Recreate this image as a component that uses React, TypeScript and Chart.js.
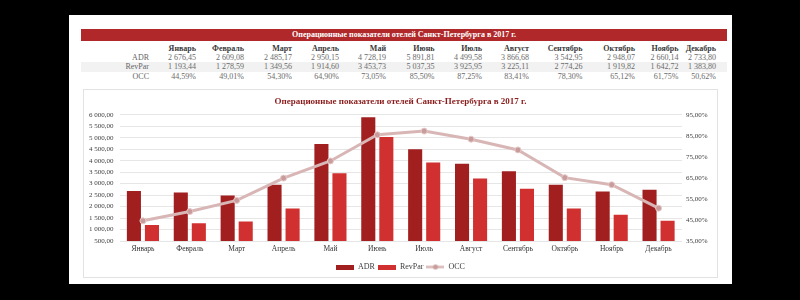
import React, { useEffect, useRef } from "react";
import { Chart, registerables } from "chart.js";

Chart.register(...registerables);

const TITLE = "Операционные показатели отелей Санкт-Петербурга в 2017 г.";
const months = ["Январь", "Февраль", "Март", "Апрель", "Май", "Июнь", "Июль", "Август", "Сентябрь", "Октябрь", "Ноябрь", "Декабрь"];
const adr = [2676.45, 2609.08, 2485.17, 2950.15, 4728.19, 5891.81, 4499.58, 3866.68, 3542.95, 2948.07, 2660.14, 2733.8];
const revpar = [1193.44, 1278.59, 1349.56, 1914.6, 3453.73, 5037.35, 3925.95, 3225.11, 2774.26, 1919.82, 1642.72, 1383.8];
const occ = [44.59, 49.01, 54.3, 64.9, 73.05, 85.5, 87.25, 83.41, 78.3, 65.12, 61.75, 50.62];
const rowLabels = ["ADR", "RevPar", "OCC"];

const FONT = "'Liberation Serif', 'DejaVu Serif', serif";
const ADR_COLOR = "#A11F1F";
const REV_COLOR = "#D0302F";
const OCC_COLOR = "#D9B6B6";

function fmt(v: number): string {
  const [i, d] = Math.abs(v).toFixed(2).split(".");
  const g = i.replace(/\B(?=(\d{3})+(?!\d))/g, " ");
  return (v < 0 ? "-" : "") + g + "," + d;
}
function pct(v: number): string {
  return fmt(v) + "%";
}

const colRight = [196, 244, 292, 339, 386, 434.5, 482, 529, 582.5, 635, 678.5, 716];
const rowY = [49, 57.7, 67, 76.7];

function makeRect(color: string) {
  const c = document.createElement("canvas");
  c.width = 18;
  c.height = 5;
  const x = c.getContext("2d")!;
  x.fillStyle = color;
  x.fillRect(0, 0, 18, 5);
  return c;
}
function makeLineMarker() {
  const c = document.createElement("canvas");
  c.width = 18;
  c.height = 7;
  const x = c.getContext("2d")!;
  x.strokeStyle = OCC_COLOR;
  x.lineWidth = 2.5;
  x.beginPath();
  x.moveTo(0, 3.5);
  x.lineTo(18, 3.5);
  x.stroke();
  x.fillStyle = "#C99C9C";
  x.beginPath();
  x.arc(9, 3.5, 2.5, 0, Math.PI * 2);
  x.fill();
  return c;
}

function ChartBox() {
  const ref = useRef<HTMLCanvasElement>(null);
  useEffect(() => {
    const styles = [makeRect(ADR_COLOR), makeRect(REV_COLOR), makeLineMarker()];
    const chart = new Chart(ref.current!, {
      type: "bar",
      data: {
        labels: months,
        datasets: [
          {
            type: "line",
            label: "OCC",
            data: occ,
            yAxisID: "y1",
            borderColor: OCC_COLOR,
            backgroundColor: OCC_COLOR,
            borderWidth: 3,
            pointRadius: 3,
            pointBackgroundColor: "#C99C9C",
            pointBorderColor: "#E6C8C8",
            pointBorderWidth: 1,
            tension: 0,
            order: 0,
          } as any,
          {
            type: "bar",
            label: "ADR",
            data: adr,
            yAxisID: "y",
            backgroundColor: ADR_COLOR,
            categoryPercentage: 0.77,
            barPercentage: 0.78,
            order: 1,
          },
          {
            type: "bar",
            label: "RevPar",
            data: revpar,
            yAxisID: "y",
            backgroundColor: REV_COLOR,
            categoryPercentage: 0.77,
            barPercentage: 0.78,
            order: 1,
          },
        ],
      },
      options: {
        responsive: false,
        animation: false,
        layout: { padding: { left: 0, right: 0, top: 0, bottom: -3 } },
        plugins: {
          title: {
            display: true,
            text: TITLE,
            color: "#8B1C1C",
            font: { family: FONT, size: 9, weight: "bold" },
            padding: { top: 7, bottom: 8 },
          },
          tooltip: { enabled: false },
          legend: {
            position: "bottom",
            labels: {
              usePointStyle: true,
              pointStyleWidth: 18,
              boxHeight: 7,
              padding: 3,
              color: "#404040",
              font: { family: FONT, size: 8 },
              generateLabels: () => [
                { text: "ADR", pointStyle: styles[0], fillStyle: ADR_COLOR, strokeStyle: ADR_COLOR, lineWidth: 0, hidden: false, datasetIndex: 1, fontColor: "#404040" },
                { text: "RevPar", pointStyle: styles[1], fillStyle: REV_COLOR, strokeStyle: REV_COLOR, lineWidth: 0, hidden: false, datasetIndex: 2, fontColor: "#404040" },
                { text: "OCC", pointStyle: styles[2], fillStyle: OCC_COLOR, strokeStyle: OCC_COLOR, lineWidth: 0, hidden: false, datasetIndex: 0, fontColor: "#404040" },
              ] as any,
            },
          },
        },
        scales: {
          x: {
            grid: { display: false, drawTicks: false },
            border: { display: false },
            ticks: { color: "#333", font: { family: FONT, size: 7.5 }, padding: 4, maxRotation: 0, autoSkip: false },
            afterFit: (s: any) => { s.height = s.height + 2; },
          },
          y: {
            position: "left",
            min: 500,
            max: 6000,
            grid: { color: "#E6E6E6", drawTicks: false },
            border: { display: false },
            ticks: { stepSize: 500, autoSkip: false, color: "#404040", font: { family: FONT, size: 7 }, padding: 6, callback: (v: any) => fmt(Number(v)) },
            afterFit: (s: any) => { s.width = 36.5; },
          },
          y1: {
            position: "right",
            min: 35,
            max: 95,
            grid: { display: false, drawTicks: false },
            border: { display: false },
            ticks: { stepSize: 10, autoSkip: false, color: "#404040", font: { family: FONT, size: 7 }, padding: 4, callback: (v: any) => pct(Number(v)) },
            afterFit: (s: any) => { s.width = 36; },
          },
        },
      } as any,
    });
    return () => chart.destroy();
  }, []);
  return <canvas ref={ref} width={635} height={189} style={{ position: "absolute", left: 83, top: 89, width: 635, height: 189 }} />;
}

function cell(text: string, right: number, cy: number, bold: boolean, color: string, key: string) {
  return (
    <div
      key={key}
      style={{
        position: "absolute",
        right: 800 - right,
        top: cy - 5,
        height: 10,
        lineHeight: "10px",
        fontSize: 8,
        fontFamily: FONT,
        fontWeight: bold ? "bold" : "normal",
        color,
        whiteSpace: "nowrap",
      }}
    >
      {text}
    </div>
  );
}

export default function App() {
  const series = [adr.map(fmt), revpar.map(fmt), occ.map(pct)];
  const cells: React.ReactNode[] = [];
  months.forEach((m, i) => cells.push(cell(m, colRight[i], rowY[0], true, "#3a3a3a", "h" + i)));
  rowLabels.forEach((r, ri) => {
    cells.push(cell(r, 149, rowY[ri + 1], false, "#666", "l" + ri));
    series[ri].forEach((v, i) => cells.push(cell(v, colRight[i], rowY[ri + 1], false, "#6a6a6a", "c" + ri + "_" + i)));
  });
  return (
    <div style={{ position: "fixed", left: 0, top: 0, width: 800, height: 300, background: "#000", overflow: "hidden" }}>
      <div style={{ position: "absolute", left: 69, top: 15, width: 663, height: 269, background: "#fff" }} />
      <div style={{ position: "absolute", left: 81, top: 62, width: 646, height: 10, background: "#F2F2F2" }} />
      <div
        style={{
          position: "absolute",
          left: 81,
          top: 29,
          width: 646,
          height: 12,
          background: "#B0282A",
          color: "#fff",
          fontFamily: FONT,
          fontWeight: "bold",
          fontSize: 8,
          lineHeight: "12px",
          textAlign: "center",
        }}
      >
        {TITLE}
      </div>
      {cells}
      <div style={{ position: "absolute", left: 83, top: 89, width: 635, height: 189, border: "1px solid #E2E2E2", boxSizing: "border-box" }} />
      <ChartBox />
    </div>
  );
}
